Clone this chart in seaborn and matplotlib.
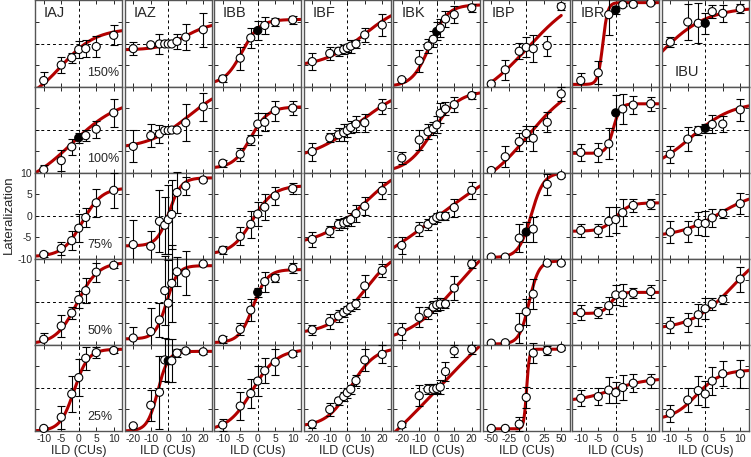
import numpy as np
import pandas as pd
import matplotlib
matplotlib.use("Agg")
import matplotlib.pyplot as plt
import seaborn as sns

subjects = ["IAJ", "IAZ", "IBB", "IBF", "IBK", "IBP", "IBR", "IBU"]
levels = ["150%", "100%", "75%", "50%", "25%"]

# ILD values (CUs) per subject; rows of y / err / fit follow the levels order
IAJ_x = [-10, -5, -2, 0, 2, 5, 10]
IAJ_y = [[-8.6, -5.0, -3.3, -1.4, -1.2, -0.7, 1.9],
         [-9.3, -7.2, -4.0, -1.9, -1.4, 0.1, 3.9],
         [-9.0, -7.6, -5.8, -2.9, -0.4, 3.0, 5.9],
         [-8.7, -5.6, -2.6, 0.5, 2.6, 6.9, 8.5],
         [-9.4, -6.8, -1.4, 2.4, 6.9, 8.2, 8.7]]
IAJ_err = [[1.9, 1.8, 1.2, 2.0, 2.0, 2.5, 2.3],
           [1.0, 2.5, 1.8, 1.1, 1.2, 2.0, 3.3],
           [0.6, 1.5, 2.2, 3.3, 2.2, 3.2, 4.1],
           [1.4, 2.5, 1.5, 2.0, 2.9, 2.2, 0.6],
           [0.4, 2.7, 4.1, 4.3, 2.7, 1.3, 0.5]]
IAJ_fit = [(-14, 3.5, -5, 5), (-14, 7.5, -2, 7), (-9.5, 6.5, 1, 2.8),
           (-9.8, 9.2, -0.5, 3), (-10, 9, -1.3, 2)]
IAJ_filled = [None, 3, None, None, None]

IAZ_x = [-20, -10, -5, -2, 0, 2, 5, 10, 20]
IAZ_y = [[-1.2, -0.3, -0.1, -0.1, -0.1, -0.1, 0.5, 1.5, 3.2],
         [-3.9, -1.4, -1.0, -0.2, -0.2, -0.1, -0.1, 1.6, 5.3],
         [-6.7, -7.1, -1.3, -2.2, -0.9, 0.3, 5.4, 6.9, 8.3],
         [-8.4, -6.9, -4.2, 2.6, -0.3, 4.3, 7.0, 6.7, 8.8],
         [-8.8, -4.0, -1.0, 6.5, 6.3, 6.3, 8.1, 8.6, 8.4]]
IAZ_err = [[1.5, 0.3, 2.3, 0.3, 0.3, 0.3, 1.7, 3.1, 4.0],
           [3.7, 2.7, 2.1, 0.3, 0.3, 0.3, 0.3, 4.3, 3.3],
           [5.6, 3.5, 7.2, 6.6, 8.0, 8.0, 4.8, 2.2, 0.3],
           [2.5, 5.4, 4.0, 8.0, 10.0, 9.0, 3.3, 5.0, 0.3],
           [0.5, 3.6, 8.5, 5.0, 5.0, 5.0, 1.0, 0.5, 0.5]]
IAZ_fit = [(-1.5, 5, 10, 7.7), (-4.5, 11.1, 12.1, 12.1), (-7, 8.8, 0.5, 3.5),
           (-8.6, 8.4, -1, 3.2), (-10, 8.5, -6, 3)]
IAZ_filled = [None, None, None, None, 4]

IBB_x = [-10, -5, -2, 0, 2, 5, 10]
IBB_y = [[-8.2, -3.4, 1.3, 3.0, 4.2, 5.0, 5.5],
         [-7.8, -5.7, -2.4, 1.3, 1.7, 4.4, 5.0],
         [-8.0, -4.8, -2.0, 0.4, 2.0, 4.6, 6.3],
         [-8.7, -6.4, -1.9, 2.2, 4.7, 5.5, 7.8],
         [-8.6, -4.2, -1.3, 1.6, 4.0, 6.0, 7.9]]
IBB_err = [[0.8, 2.7, 2.3, 2.3, 2.0, 1.0, 1.0],
           [0.8, 1.5, 1.2, 2.5, 2.1, 2.3, 1.7],
           [1.0, 2.1, 3.1, 2.9, 3.1, 2.0, 1.2],
           [0.8, 1.4, 2.5, 1.0, 2.3, 1.0, 1.2],
           [1.4, 3.3, 3.3, 3.5, 2.9, 3.0, 0.5]]
IBB_fit = [(-9.5, 5.6, -4.5, 2.5), (-9, 5.3, -2, 2.5), (-9, 7, -1.5, 3),
           (-9.5, 7.5, -1.3, 2), (-10, 9, -1.5, 3.5)]
IBB_filled = [3, None, None, 3, None]

IBF_x = [-20, -10, -5, -2, 0, 2, 5, 10, 20]
IBF_y = [[-4.2, -2.3, -1.8, -1.4, -1.0, -0.6, -0.1, 2.0, 4.3],
         [-5.1, -1.9, -1.2, -0.7, -0.2, 0.5, 1.3, 1.6, 5.3],
         [-5.5, -3.6, -2.0, -1.7, -1.4, -0.9, 0.5, 2.2, 5.8],
         [-6.5, -4.6, -3.3, -2.5, -1.9, -1.2, -0.5, 3.7, 7.3],
         [-8.4, -5.0, -3.0, -2.0, -1.1, -0.3, 1.7, 6.5, 7.8]]
IBF_err = [[1.9, 1.6, 1.0, 1.0, 1.0, 1.5, 1.0, 1.7, 2.5],
           [2.1, 1.0, 1.5, 2.0, 1.5, 1.4, 1.9, 2.1, 1.7],
           [1.8, 1.3, 1.2, 1.2, 1.0, 1.5, 2.0, 2.1, 2.0],
           [1.2, 1.7, 1.3, 1.0, 1.0, 1.0, 1.2, 2.5, 1.6],
           [0.8, 1.5, 1.0, 1.0, 1.2, 1.0, 1.3, 2.5, 2.1]]
IBF_fit = [(-5.5, 9.8, 9.8, 12), (-7.5, 11, 7, 15), (-7, 13, 10, 13),
           (-7.5, 13, 10, 10), (-9, 9.5, 2, 7)]
IBF_filled = [None, None, None, None, None]

IBK_x = [-20, -10, -5, -2, 0, 2, 5, 10, 20]
IBK_y = [[-8.4, -4.0, -0.6, 1.0, 2.8, 3.6, 5.7, 6.7, 8.3],
         [-6.6, -2.4, -0.5, 0.2, 1.1, 3.8, 4.8, 5.8, 7.9],
         [-6.9, -3.1, -2.0, -1.0, -0.4, -0.1, -0.1, 1.9, 5.9],
         [-6.9, -3.6, -2.6, -1.2, -0.7, -0.5, -0.5, 3.2, 8.8],
         [-8.6, -1.8, -0.3, -0.3, -0.1, 0.2, 3.8, 8.6, 9.0]]
IBK_err = [[0.5, 2.6, 1.7, 1.9, 2.1, 2.1, 1.9, 2.0, 0.9],
           [1.4, 2.3, 1.7, 1.5, 2.0, 2.3, 1.5, 1.7, 0.9],
           [2.0, 1.6, 1.2, 1.0, 1.0, 1.0, 1.0, 2.1, 1.9],
           [1.9, 2.3, 1.5, 1.5, 1.5, 1.5, 1.0, 2.7, 1.0],
           [0.5, 2.5, 1.2, 1.2, 1.0, 1.7, 2.3, 1.4, 1.0]]
IBK_fit = [(-10, 9, -4, 5), (-10, 9, -2.5, 7.5), (-20, 20, 1, 33),
           (-10, 18, 12, 15), (-30, 30, 1, 35)]
IBK_filled = [4, None, None, None, None]

IBP_x = [-50, -30, -10, 0, 10, 30, 50]
IBP_y = [[-9.4, -6.1, -1.8, -0.9, -1.2, -0.5, 8.6],
         [-9.5, -6.3, -2.8, -0.9, -2.0, 1.7, 8.3],
         [-9.6, -9.6, -5.2, -3.8, -3.1, 7.3, 9.3],
         [-9.6, -9.5, -6.1, -2.3, 1.8, 9.0, 9.0],
         [-9.4, -9.4, -8.4, -2.2, 8.1, 8.7, 9.2]]
IBP_err = [[0.5, 2.3, 1.9, 2.3, 3.1, 2.3, 0.8],
           [0.5, 2.4, 2.1, 1.7, 2.9, 2.3, 1.6],
           [0.3, 0.3, 3.3, 2.3, 2.9, 2.4, 0.3],
           [0.3, 0.3, 3.5, 3.0, 3.5, 0.3, 0.3],
           [0.3, 0.3, 1.7, 2.5, 2.3, 1.0, 0.3]]
IBP_fit = [(-15, 13, 2, 40), (-15, 12, 2, 35), (-9.7, 10, 7, 9),
           (-9.8, 9.5, 4, 7), (-9.5, 9, 0.5, 2)]
IBP_filled = [None, None, 3, None, None]

IBR_x = [-10, -5, -2, 0, 2, 5, 10]
IBR_y = [[-8.6, -6.8, 6.7, 7.8, 9.0, 9.1, 9.4],
         [-5.3, -5.3, -3.3, 3.9, 4.8, 5.7, 6.0],
         [-3.4, -3.4, -1.3, -0.9, 0.7, 2.4, 2.7],
         [-2.5, -2.5, -0.9, 1.6, 1.6, 2.0, 2.4],
         [-2.4, -2.0, -0.5, -1.1, 0.1, 1.1, 1.6]]
IBR_err = [[1.7, 2.7, 4.8, 1.0, 0.3, 0.3, 0.3],
           [1.9, 2.3, 3.6, 4.1, 3.4, 2.1, 1.6],
           [1.5, 1.5, 3.4, 3.0, 3.2, 1.6, 1.2],
           [1.7, 1.2, 2.0, 2.3, 2.5, 1.2, 1.5],
           [1.9, 1.9, 3.1, 2.4, 2.8, 2.1, 1.7]]
IBR_fit = [(-9.5, 9.5, -3.7, 0.7), (-5.5, 6, -0.7, 1), (-3.6, 3, 0, 2),
           (-2.7, 2.2, -1.5, 1.2), (-3.2, 2.3, -1, 5)]
IBR_filled = [3, 3, None, None, None]

IBU_x = [-10, -5, -2, 0, 2, 5, 10]
IBU_y = [[0.3, 5.0, 4.7, 4.7, 7.4, 7.0, 8.1],
         [-5.7, -2.2, -0.2, 0.3, 1.2, 1.3, 4.6],
         [-3.8, -3.6, -1.8, -1.8, -0.5, 0.5, 2.8],
         [-5.4, -4.8, -3.0, -1.6, -0.5, 0.5, 5.3],
         [-5.9, -2.8, -0.6, -1.4, 1.6, 3.3, 3.3]]
IBU_err = [[1.2, 4.2, 4.6, 2.5, 1.5, 2.0, 1.0],
           [2.0, 2.7, 1.0, 1.0, 2.1, 1.9, 2.5],
           [2.6, 2.4, 2.7, 2.9, 2.1, 1.0, 2.4],
           [1.9, 2.1, 2.5, 2.5, 1.5, 1.0, 2.9],
           [1.9, 2.7, 3.3, 3.1, 3.3, 2.9, 3.3]]
IBU_fit = [(-15, 8.5, -14, 7), (-10, 6.5, -4, 6), (-5, 6, 4, 6),
           (-6.5, 14, 8, 6), (-7.5, 4.2, -2.5, 3.5)]
IBU_filled = [3, 3, None, None, None]

x_half = [12.5, 25, 12.5, 25, 25, 62.5, 12.5, 12.5]
curve_half = [12.5, 25, 12.5, 25, 25, 50, 12.5, 12.5]
x_ticks = [[-10, -5, 0, 5, 10], [-20, -10, 0, 10, 20], [-10, -5, 0, 5, 10],
           [-20, -10, 0, 10, 20], [-20, -10, 0, 10, 20], [-50, -25, 0, 25, 50],
           [-10, -5, 0, 5, 10], [-10, -5, 0, 5, 10]]

columns = [
    (IAJ_x, IAJ_y, IAJ_err, IAJ_fit, IAJ_filled),
    (IAZ_x, IAZ_y, IAZ_err, IAZ_fit, IAZ_filled),
    (IBB_x, IBB_y, IBB_err, IBB_fit, IBB_filled),
    (IBF_x, IBF_y, IBF_err, IBF_fit, IBF_filled),
    (IBK_x, IBK_y, IBK_err, IBK_fit, IBK_filled),
    (IBP_x, IBP_y, IBP_err, IBP_fit, IBP_filled),
    (IBR_x, IBR_y, IBR_err, IBR_fit, IBR_filled),
    (IBU_x, IBU_y, IBU_err, IBU_fit, IBU_filled),
]


def logistic(x, lo, hi, x0, s):
    return lo + (hi - lo) / (1 + np.exp(-(x - x0) / s))


sns.set_style("ticks")
plt.rcParams['font.family'] = ['Liberation Sans', 'DejaVu Sans']
plt.rcParams['axes.unicode_minus'] = False

fig = plt.figure(figsize=(7.51, 4.57), dpi=100)
gs = fig.add_gridspec(5, 8, left=35 / 751, right=749 / 751, top=0.999,
                      bottom=1 - 431 / 457, wspace=0.023, hspace=0)

curve_red = "#b30000"
spine_gray = "#555555"

for c, (xs, ys, errs, fits, filled) in enumerate(columns):
    L = x_half[c]
    for r in range(5):
        ax = fig.add_subplot(gs[r, c])

        ax.axvline(0, color="k", lw=0.7, ls=(0, (3, 3)), zorder=1)
        ax.axhline(0, color="k", lw=0.7, ls=(0, (3, 3)), zorder=1)

        # fitted curve
        xc = np.linspace(-curve_half[c], curve_half[c], 300)
        curve = pd.DataFrame({"ild": xc, "lat": logistic(xc, *fits[r])})
        sns.lineplot(data=curve, x="ild", y="lat", ax=ax, color=curve_red,
                     lw=2.2, zorder=2)

        pts = pd.DataFrame({"ild": xs, "lat": ys[r], "err": errs[r]})
        pts["kind"] = "open"
        if filled[r] is not None:
            pts.loc[filled[r], "kind"] = "filled"

        eb = ax.errorbar(pts["ild"], pts["lat"], yerr=pts["err"], fmt="none",
                         ecolor="k", elinewidth=0.8, capsize=2.6,
                         capthick=0.8, zorder=3)
        for art in eb.get_children():
            art.set_clip_on(False)

        sns.scatterplot(data=pts, x="ild", y="lat", hue="kind",
                        palette={"open": "white", "filled": "black"},
                        edgecolor="k", linewidth=0.8, s=34, ax=ax,
                        legend=False, zorder=4, clip_on=False)

        ax.set_xlim(-L, L)
        ax.set_ylim(-10, 10)
        ax.set_xticks(x_ticks[c])
        ax.set_yticks([-10, -5, 0, 5, 10])
        ax.tick_params(direction="in", length=3, width=0.7, top=True,
                       right=True, labelsize=7.5, pad=2,
                       labelbottom=(r == 4),
                       labelleft=(r == 2 and c == 0))
        for sp in ax.spines.values():
            sp.set_color(spine_gray)
            sp.set_linewidth(1.0)

        ax.set_ylabel("")
        if r == 4:
            ax.set_xlabel("ILD (CUs)", fontsize=9, labelpad=1)
        else:
            ax.set_xlabel("")

        if r == 0:
            if subjects[c] == "IBU":
                ax.text(0.15, 0.17, subjects[c], transform=ax.transAxes,
                        fontsize=10.5, ha="left", va="center")
            else:
                ax.text(0.1, 0.85, subjects[c], transform=ax.transAxes,
                        fontsize=10.5, ha="left", va="center")
        if c == 0:
            ax.text(0.6, 0.16, levels[r], transform=ax.transAxes,
                    fontsize=9, ha="left", va="center")

fig.text(0.012, 1 - 215 / 457, "Lateralization", rotation=90,
         ha="center", va="center", fontsize=9.5)

fig.savefig("out.png", dpi=100)
